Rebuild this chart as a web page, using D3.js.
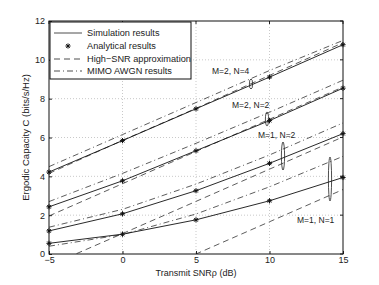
<!DOCTYPE html>
<html><head><meta charset="utf-8">
<script src="https://cdn.jsdelivr.net/npm/d3@7"></script>
<style>body{margin:0;background:#fff;font-family:"Liberation Sans",Arial,sans-serif;}</style>
</head><body><svg id="c" width="379" height="285"></svg>
<script>
const snr = [-5, 0, 5, 10, 15];
const xTicks = [-5, 0, 5, 10, 15];
const yTicks = [0, 2, 4, 6, 8, 10, 12];
const configs = ["M=2, N=4", "M=2, N=2", "M=1, N=2", "M=1, N=1"];
const simM2N4 = [4.22, 5.84, 7.48, 9.11, 10.78];
const simM2N2 = [2.43, 3.77, 5.32, 6.87, 8.54];
const simM1N2 = [1.19, 2.07, 3.26, 4.67, 6.20];
const simM1N1 = [0.55, 1.02, 1.76, 2.74, 3.94];
const anaM2N4 = [4.22, 5.84, 7.48, 9.11, 10.78];
const anaM2N2 = [2.43, 3.77, 5.32, 6.87, 8.54];
const anaM1N2 = [1.19, 2.07, 3.26, 4.67, 6.20];
const anaM1N1 = [0.55, 1.02, 1.76, 2.74, 3.94];
const hiM2N4 = [4.15, 5.85, 7.50, 9.20, 10.88];
const hiM2N2 = [1.96, 3.62, 5.28, 6.94, 8.60];
const hiM1N2 = [-0.60, 1.05, 2.71, 4.37, 6.03];
const hiM1N1 = [-3.32, -1.66, 0.00, 1.66, 3.32];
const awM2N4 = [4.50, 6.15, 7.80, 9.45, 11.00];
const awM2N2 = [2.70, 4.15, 5.70, 7.30, 8.95];
const awM1N2 = [1.38, 2.30, 3.60, 5.10, 6.75];
const awM1N1 = [0.40, 1.00, 2.06, 3.46, 5.03];
const legendLabels = ["Simulation results", "Analytical results", "High\u2212SNR approximation", "MIMO AWGN results"];

const svg = d3.select("#c");
const L = 49, R = 343, T = 21, B = 254;
const x = d3.scaleLinear().domain([-5, 15]).range([L, R]);
const y = d3.scaleLinear().domain([0, 12]).range([B, T]);

svg.append("defs").append("clipPath").attr("id", "clip")
  .append("rect").attr("x", L).attr("y", T).attr("width", R - L).attr("height", B - T);

// grid
const g = svg.append("g");
g.selectAll(".gx").data(xTicks.slice(1, -1)).join("line")
  .attr("x1", d => x(d)).attr("x2", d => x(d)).attr("y1", T).attr("y2", B)
  .attr("stroke", "#bbb").attr("stroke-width", 0.8).attr("stroke-dasharray", "1,2");
g.selectAll(".gy").data(yTicks.slice(1, -1)).join("line")
  .attr("y1", d => y(d)).attr("y2", d => y(d)).attr("x1", L).attr("x2", R)
  .attr("stroke", "#bbb").attr("stroke-width", 0.8).attr("stroke-dasharray", "1,2");

// axes
const xAxis = d3.axisBottom(x).tickValues(xTicks).tickSize(-3).tickPadding(3)
  .tickFormat(d => d < 0 ? "\u2212" + Math.abs(d) : d);
const yAxis = d3.axisLeft(y).tickValues(yTicks).tickSize(-3).tickPadding(4);
const ax = svg.append("g").attr("transform", `translate(0,${B})`).call(xAxis);
const ay = svg.append("g").attr("transform", `translate(${L},0)`).call(yAxis);
[ax, ay].forEach(a => {
  a.select(".domain").remove();
  a.selectAll("text").attr("font-size", 9).attr("fill", "#222").attr("font-family", "Liberation Sans, Arial, sans-serif");
  a.selectAll("line").attr("stroke", "#222");
});
// right/top ticks
svg.append("g").selectAll("line").data(xTicks).join("line")
  .attr("x1", d => x(d)).attr("x2", d => x(d)).attr("y1", T).attr("y2", T + 3).attr("stroke", "#222");
svg.append("g").selectAll("line").data(yTicks).join("line")
  .attr("y1", d => y(d)).attr("y2", d => y(d)).attr("x1", R).attr("x2", R - 3).attr("stroke", "#222");

const line = d3.line().x((d, i) => x(snr[i])).y(d => y(d));
const plot = svg.append("g").attr("clip-path", "url(#clip)");
const aw = [awM2N4, awM2N2, awM1N2, awM1N1];
const hi = [hiM2N4, hiM2N2, hiM1N2, hiM1N1];
const sim = [simM2N4, simM2N2, simM1N2, simM1N1];
const ana = [anaM2N4, anaM2N2, anaM1N2, anaM1N1];
plot.selectAll(".aw").data(aw).join("path").attr("d", line).attr("fill", "none")
  .attr("stroke", "#333").attr("stroke-width", 0.8).attr("stroke-dasharray", "6,3,1,3");
plot.selectAll(".hi").data(hi).join("path").attr("d", line).attr("fill", "none")
  .attr("stroke", "#333").attr("stroke-width", 0.8).attr("stroke-dasharray", "6,4");
plot.selectAll(".sim").data(sim).join("path").attr("d", line).attr("fill", "none")
  .attr("stroke", "#111").attr("stroke-width", 0.9);

function star(sel, r) {
  sel.append("path").attr("d", `M${-r},0H${r}M0,${-r}V${r}M${-r*0.7},${-r*0.7}L${r*0.7},${r*0.7}M${-r*0.7},${r*0.7}L${r*0.7},${-r*0.7}`)
    .attr("stroke", "#111").attr("stroke-width", 1).attr("fill", "none");
}
ana.forEach(s => {
  s.forEach((v, i) => {
    svg.append("g").attr("transform", `translate(${x(snr[i])},${y(v)})`).call(star, 2.6);
  });
});

// frame
svg.append("rect").attr("x", L).attr("y", T).attr("width", R - L).attr("height", B - T)
  .attr("fill", "none").attr("stroke", "#111").attr("stroke-width", 1);

// labels
svg.append("text").attr("x", (L + R) / 2).attr("y", 276).attr("text-anchor", "middle")
  .attr("font-size", 9).attr("fill", "#222").text("Transmit SNR\u03c1 (dB)");
svg.append("text").attr("transform", `translate(29,${(T + B) / 2}) rotate(-90)`).attr("text-anchor", "middle")
  .attr("font-size", 9.5).attr("fill", "#222").text("Ergodic Capacity C (bits/s/Hz)");

// annotations
const ann = [
  {t: configs[0], x: 212, y: 74, ex: 251, ey: 84, ry: 5},
  {t: configs[1], x: 232, y: 108, ex: 267, ey: 119, ry: 7},
  {t: configs[2], x: 258, y: 138, ex: 283, ey: 156, ry: 14},
  {t: configs[3], x: 297, y: 223, ex: 330, ey: 179, ry: 22}
];
ann.forEach(a => {
  svg.append("text").attr("x", a.x).attr("y", a.y).attr("font-size", 8.5).attr("fill", "#222").text(a.t);
  svg.append("ellipse").attr("cx", a.ex).attr("cy", a.ey).attr("rx", 1.6).attr("ry", a.ry)
    .attr("fill", "none").attr("stroke", "#222").attr("stroke-width", 0.8);
});

// legend
const lg = svg.append("g");
lg.append("rect").attr("x", 50).attr("y", 22).attr("width", 141).attr("height", 57)
  .attr("fill", "#fff").attr("stroke", "#111").attr("stroke-width", 1);
const rows = [33, 46, 59, 71];
const dashes = [null, null, "6,4", "6,3,1,3"];
legendLabels.forEach((t, i) => {
  if (i !== 1) lg.append("line").attr("x1", 54).attr("x2", 82).attr("y1", rows[i]).attr("y2", rows[i])
    .attr("stroke", "#222").attr("stroke-width", 0.8).attr("stroke-dasharray", dashes[i]);
  else lg.append("g").attr("transform", `translate(68,${rows[i]})`).call(star, 2.6);
  lg.append("text").attr("x", 87).attr("y", rows[i] + 3).attr("font-size", 9.2).attr("fill", "#222").text(t);
});
</script></body></html>
